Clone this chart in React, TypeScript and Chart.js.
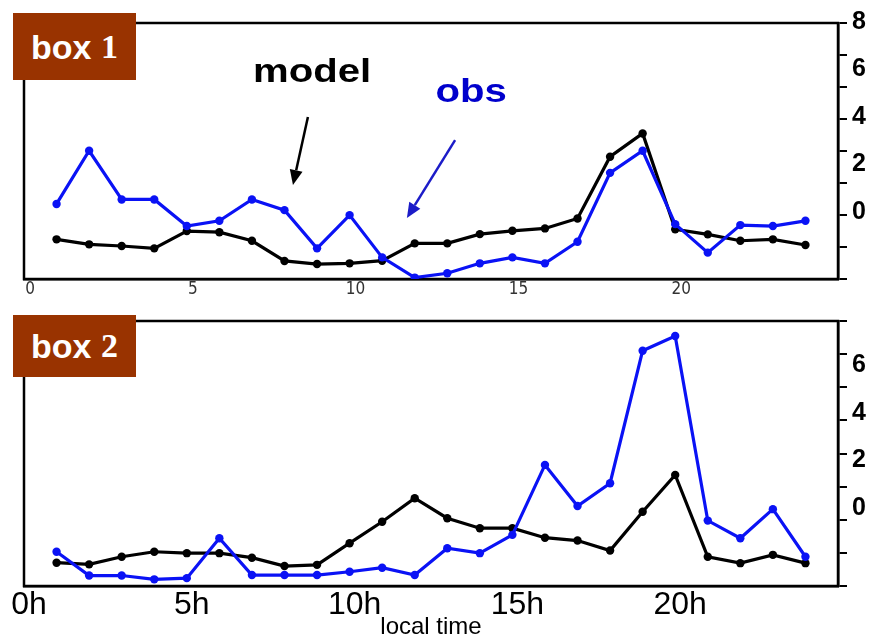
import React, { useEffect, useRef } from 'react';
import { Chart, registerables } from 'chart.js';

Chart.register(...registerables);

// ---------- data ----------
const hours = [1, 2, 3, 4, 5, 6, 7, 8, 9, 10, 11, 12, 13, 14, 15, 16, 17, 18, 19, 20, 21, 22, 23, 24];

const box1Model = [-1.15, -1.36, -1.43, -1.53, -0.8, -0.85, -1.21, -2.06, -2.19, -2.16, -2.05, -1.32, -1.32, -0.93, -0.79, -0.69, -0.27, 2.33, 3.31, -0.73, -0.94, -1.21, -1.15, -1.39];
const box1Obs = [0.34, 2.58, 0.53, 0.53, -0.59, -0.37, 0.53, 0.08, -1.53, -0.13, -1.91, -2.76, -2.58, -2.16, -1.91, -2.16, -1.25, 1.65, 2.58, -0.51, -1.71, -0.55, -0.59, -0.37];

const box2Model = [-2.3, -2.37, -2.05, -1.84, -1.9, -1.9, -2.09, -2.44, -2.39, -1.48, -0.58, 0.41, -0.43, -0.85, -0.85, -1.25, -1.37, -1.79, -0.16, 1.39, -2.05, -2.32, -1.97, -2.32];
const box2Obs = [-1.84, -2.84, -2.84, -3.0, -2.95, -1.27, -2.82, -2.82, -2.82, -2.68, -2.51, -2.82, -1.69, -1.9, -1.13, 1.81, 0.08, 1.04, 6.61, 7.23, -0.53, -1.27, -0.05, -2.05];

const xTickValues = [0, 5, 10, 15, 20];
const box1XLabels = ['0', '5', '10', '15', '20'];
const box2XLabels = ['0h', '5h', '10h', '15h', '20h'];
const box1YLabels = [0, 2, 4, 6, 8];
const box2YLabels = [0, 2, 4, 6];
const xTitle = 'local time';

// ---------- styles ----------
const SANS = "'Liberation Sans', Arial, Helvetica, sans-serif";
const NARROW = "'Liberation Sans Narrow', 'DejaVu Sans Condensed', 'Liberation Sans', sans-serif";
const BLUE = '#0a12f5';
const BROWN = '#993300';

const framePlugin = {
  id: 'frame',
  beforeDatasetsDraw(chart: any) {
    const { ctx, chartArea: a } = chart;
    ctx.save();
    ctx.strokeStyle = '#000';
    ctx.lineWidth = 2.5;
    ctx.strokeRect(a.left, a.top, a.right - a.left, a.bottom - a.top);
    ctx.restore();
  },
};

const box1Notes = [
  { text: 'model', x: 8.85, y: 5.89, color: '#000000' },
  { text: 'obs', x: 13.73, y: 5.01, color: '#0000cc' },
];
const box1Arrows = [
  { from: [8.72, 4.0], to: [8.26, 1.14], color: '#000000' },
  { from: [13.24, 3.03], to: [11.76, -0.25], color: '#1c1cc8' },
];

const notesPlugin = {
  id: 'notes',
  afterDatasetsDraw(chart: any) {
    const { ctx } = chart;
    const xs = chart.scales.x;
    const ys = chart.scales.y;
    ctx.save();
    for (const a of box1Arrows) {
      const x1 = xs.getPixelForValue(a.from[0]);
      const y1 = ys.getPixelForValue(a.from[1]);
      const x2 = xs.getPixelForValue(a.to[0]);
      const y2 = ys.getPixelForValue(a.to[1]);
      const ang = Math.atan2(y2 - y1, x2 - x1);
      const head = 15;
      const hw = 6.5;
      const bx = x2 - head * Math.cos(ang);
      const by = y2 - head * Math.sin(ang);
      ctx.strokeStyle = a.color;
      ctx.fillStyle = a.color;
      ctx.lineWidth = 2.5;
      ctx.beginPath();
      ctx.moveTo(x1, y1);
      ctx.lineTo(bx, by);
      ctx.stroke();
      ctx.beginPath();
      ctx.moveTo(x2, y2);
      ctx.lineTo(bx + hw * Math.sin(ang), by - hw * Math.cos(ang));
      ctx.lineTo(bx - hw * Math.sin(ang), by + hw * Math.cos(ang));
      ctx.closePath();
      ctx.fill();
    }
    for (const n of box1Notes) {
      const px = xs.getPixelForValue(n.x);
      const py = ys.getPixelForValue(n.y);
      ctx.save();
      ctx.translate(px, py);
      ctx.scale(1.18, 1);
      ctx.font = `bold 34px ${SANS}`;
      ctx.textAlign = 'center';
      ctx.textBaseline = 'middle';
      ctx.fillStyle = n.color;
      ctx.fillText(n.text, 0, 0);
      ctx.restore();
    }
    ctx.restore();
  },
};

function makeConfig(opts: {
  model: number[];
  obs: number[];
  yMin: number;
  yMax: number;
  yLabels: number[];
  xLabels: string[];
  xFontSize: number;
  xFontFamily: string;
  xColor: string;
  xLabelOffset: number;
  xPadding: number;
  xHeight: number;
  topPad: number;
  withTitle: boolean;
  plugins: any[];
}): any {
  const toPts = (arr: number[]) => hours.map((h, i) => ({ x: h, y: arr[i] }));
  const ds = (label: string, arr: number[], color: string) => ({
    label,
    data: toPts(arr),
    borderColor: color,
    backgroundColor: color,
    borderWidth: 3.2,
    pointRadius: 4.2,
    pointHoverRadius: 4.2,
    pointBorderWidth: 0,
    tension: 0,
    xAxisID: 'x',
    yAxisID: 'y',
  });
  return {
    type: 'line',
    data: {
      datasets: [ds('obs', opts.obs, BLUE), ds('model', opts.model, '#000000')],
    },
    options: {
      animation: false,
      responsive: false,
      maintainAspectRatio: false,
      devicePixelRatio: 1,
      events: [],
      layout: { padding: { left: 24, top: opts.topPad, right: 0, bottom: 0 } },
      plugins: { legend: { display: false }, tooltip: { enabled: false }, title: { display: false } },
      scales: {
        x: {
          type: 'linear',
          position: 'bottom',
          min: 0,
          max: 25,
          afterBuildTicks: (s: any) => {
            s.ticks = xTickValues.map((v) => ({ value: v }));
          },
          afterFit: (s: any) => {
            s.height = opts.xHeight;
          },
          grid: { display: false, drawTicks: false },
          border: { display: true, color: '#000', width: 2.5 },
          ticks: {
            autoSkip: false,
            maxRotation: 0,
            minRotation: 0,
            padding: opts.xPadding,
            labelOffset: opts.xLabelOffset,
            color: opts.xColor,
            font: { family: opts.xFontFamily, size: opts.xFontSize },
            callback: (_v: any, i: number) => opts.xLabels[i],
          },
          title: opts.withTitle
            ? {
                display: true,
                text: xTitle,
                color: '#000',
                font: { family: SANS, size: 24 },
                padding: { top: 0, bottom: 0 },
              }
            : { display: false },
        },
        yt: {
          type: 'linear',
          position: 'right',
          weight: 0,
          min: 0,
          max: 8,
          ticks: { display: false, stepSize: 1 },
          grid: { display: true, drawOnChartArea: false, drawTicks: true, tickLength: 9, color: '#000', lineWidth: 2 },
          border: { display: true, color: '#000', width: 2.5 },
          afterFit: (s: any) => {
            s.width = 10;
          },
        },
        y: {
          type: 'linear',
          position: 'right',
          weight: 1,
          min: opts.yMin,
          max: opts.yMax,
          afterBuildTicks: (s: any) => {
            s.ticks = opts.yLabels.map((v) => ({ value: v }));
          },
          afterFit: (s: any) => {
            s.width = 22;
          },
          grid: { display: false, drawTicks: false },
          border: { display: false },
          ticks: {
            padding: 4,
            color: '#000',
            font: { family: SANS, size: 25, weight: 'bold' },
            callback: (v: any) => String(v),
          },
        },
      },
    },
    plugins: opts.plugins,
  };
}

function BoxLabel({ top, height, n }: { top: number; height: number; n: string }) {
  return (
    <div
      style={{
        position: 'absolute',
        left: 13,
        top,
        width: 123,
        height,
        background: BROWN,
        color: '#fff',
        display: 'flex',
        alignItems: 'center',
        justifyContent: 'center',
        fontWeight: 'bold',
        fontSize: 34,
        lineHeight: 1,
      }}
    >
      <span style={{ fontFamily: SANS }}>box</span>
      <span style={{ fontFamily: SANS }}>&nbsp;</span>
      <span style={{ fontFamily: "'Liberation Serif', 'Times New Roman', serif" }}>{n}</span>
    </div>
  );
}

export default function App() {
  const topRef = useRef<HTMLCanvasElement>(null);
  const botRef = useRef<HTMLCanvasElement>(null);

  useEffect(() => {
    document.body.style.margin = '0';
    const c1 = new Chart(
      topRef.current as HTMLCanvasElement,
      makeConfig({
        model: box1Model,
        obs: box1Obs,
        yMin: -2.82,
        yMax: 7.96,
        yLabels: box1YLabels,
        xLabels: box1XLabels,
        xFontSize: 17,
        xFontFamily: NARROW,
        xColor: '#333',
        xLabelOffset: 6,
        xPadding: 0,
        xHeight: 21,
        topPad: 23,
        withTitle: false,
        plugins: [framePlugin, notesPlugin],
      })
    );
    const c2 = new Chart(
      botRef.current as HTMLCanvasElement,
      makeConfig({
        model: box2Model,
        obs: box2Obs,
        yMin: -3.28,
        yMax: 7.86,
        yLabels: box2YLabels,
        xLabels: box2XLabels,
        xFontSize: 32,
        xFontFamily: SANS,
        xColor: '#000',
        xLabelOffset: 5,
        xPadding: 0,
        xHeight: 56,
        topPad: 21,
        withTitle: true,
        plugins: [framePlugin],
      })
    );
    return () => {
      c1.destroy();
      c2.destroy();
    };
  }, []);

  return (
    <div style={{ position: 'relative', width: 870, height: 642, background: '#fff', overflow: 'hidden' }}>
      <canvas ref={topRef} width={870} height={300} style={{ position: 'absolute', left: 0, top: 0, width: 870, height: 300 }} />
      <canvas ref={botRef} width={870} height={342} style={{ position: 'absolute', left: 0, top: 300, width: 870, height: 342 }} />
      <BoxLabel top={13} height={67} n="1" />
      <BoxLabel top={315} height={62} n="2" />
    </div>
  );
}
